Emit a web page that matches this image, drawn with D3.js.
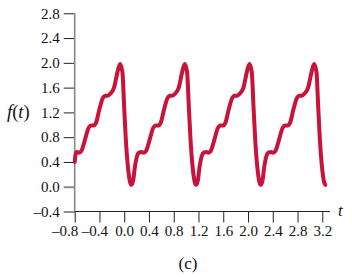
<!DOCTYPE html>
<html>
<head>
<meta charset="utf-8">
<script src="https://cdn.jsdelivr.net/npm/d3@7"></script>
<style>
  body { margin: 0; background: #fff; }
  svg text { font-family: "Liberation Serif", "Times New Roman", serif; fill: #111; }
</style>
</head>
<body>
<div id="chart"></div>
<script>
// values (t, f(t)) -- one period is roughly 1.045 wide in the drawing
var tVals = [
  -0.800, -0.785, -0.766, -0.731, -0.691, -0.631, -0.576, -0.531, -0.491, -0.456, -0.401, -0.346,
  -0.306, -0.266, -0.226, -0.164, -0.109, -0.067, -0.029, -0.002, 0.025, 0.063, 0.093,
  0.114, 0.144, 0.174, 0.209, 0.239, 0.279, 0.314, 0.354, 0.414, 0.469, 0.514, 0.554, 0.589,
  0.644, 0.699, 0.739, 0.779, 0.819, 0.881, 0.936, 0.978, 1.016, 1.043, 1.070, 1.108, 1.138,
  1.159, 1.189, 1.219, 1.254, 1.284, 1.324, 1.359, 1.399, 1.459, 1.514, 1.559, 1.599, 1.634,
  1.689, 1.744, 1.784, 1.824, 1.864, 1.926, 1.981, 2.023, 2.061, 2.088, 2.115, 2.153, 2.183,
  2.204, 2.234, 2.264, 2.299, 2.329, 2.369, 2.404, 2.444, 2.504, 2.559, 2.604, 2.644, 2.679,
  2.734, 2.789, 2.829, 2.869, 2.909, 2.971, 3.026, 3.068, 3.106, 3.133, 3.160, 3.198, 3.228,
  3.249
];
var fVals = [
  0.40, 0.52, 0.56, 0.55, 0.58, 0.77, 0.95, 0.99, 0.99, 1.03, 1.25, 1.43,
  1.47, 1.47, 1.50, 1.60, 1.85, 1.98, 1.85, 1.31, 0.78, 0.29, 0.08,
  0.03, 0.10, 0.33, 0.50, 0.55, 0.56, 0.55, 0.58, 0.77, 0.95, 0.99, 0.99, 1.03,
  1.25, 1.43, 1.47, 1.47, 1.50, 1.60, 1.85, 1.98, 1.85, 1.31, 0.78, 0.29, 0.08,
  0.03, 0.10, 0.33, 0.50, 0.55, 0.56, 0.55, 0.58, 0.77, 0.95, 0.99, 0.99, 1.03,
  1.25, 1.43, 1.47, 1.47, 1.50, 1.60, 1.85, 1.98, 1.85, 1.31, 0.78, 0.29, 0.08,
  0.03, 0.10, 0.33, 0.50, 0.55, 0.56, 0.55, 0.58, 0.77, 0.95, 0.99, 0.99, 1.03,
  1.25, 1.43, 1.47, 1.47, 1.50, 1.60, 1.85, 1.98, 1.85, 1.31, 0.78, 0.29, 0.08,
  0.03
];
var xTicks = [-0.8, -0.4, 0.0, 0.4, 0.8, 1.2, 1.6, 2.0, 2.4, 2.8, 3.2];
var yTicks = [-0.4, 0.0, 0.4, 0.8, 1.2, 1.6, 2.0, 2.4, 2.8];

var width = 352, height = 277;
var lineColor = "#c8133b";
var tickFont = "15px";

var x = d3.scaleLinear().domain([-0.8, 3.2]).range([74.7, 322.3]);
var y = d3.scaleLinear().domain([-0.4, 2.8]).range([211.5, 13.3]);

var data = tVals.map(function(t, i) { return {t: t, f: fVals[i]}; });

var fmt = function(d) { return d3.format(".1f")(d).replace("-", "\u2013").replace("\u2212", "\u2013"); };

var svg = d3.select("#chart")
    .append("svg")
    .attr("width", width)
    .attr("height", height);

// y axis
var yAxis = svg.append("g")
    .attr("transform", "translate(" + x(-0.8) + ",0)")
    .call(d3.axisLeft(y).tickValues(yTicks).tickSize(11).tickPadding(4).tickFormat(fmt));
yAxis.select(".domain").remove();
yAxis.selectAll(".tick line").attr("stroke", "#222").attr("stroke-width", 1);
yAxis.selectAll(".tick text").attr("font-size", tickFont).attr("fill", "#111");
yAxis.selectAll(".tick").filter(function(d) { return d === 0; })
    .select("line").attr("stroke", "#888").attr("stroke-width", 2);

svg.append("line")
    .attr("x1", x(-0.8)).attr("x2", x(-0.8))
    .attr("y1", y(2.8)).attr("y2", y(-0.4))
    .attr("stroke", "#888").attr("stroke-width", 1.6);

// x axis
var xAxis = svg.append("g")
    .attr("transform", "translate(0," + y(-0.4) + ")")
    .call(d3.axisBottom(x).tickValues(xTicks).tickSize(11).tickPadding(3).tickFormat(fmt));
xAxis.select(".domain").remove();
xAxis.selectAll(".tick line").attr("stroke", "#222").attr("stroke-width", 1);
xAxis.selectAll(".tick text").attr("font-size", tickFont).attr("fill", "#111")
    .attr("dx", function(d) { return d < -0.5 ? -10 : (d < 0 ? -5 : 0); });

svg.append("line")
    .attr("x1", x(-0.8)).attr("x2", 330)
    .attr("y1", y(-0.4)).attr("y2", y(-0.4))
    .attr("stroke", "#222").attr("stroke-width", 1);

// curve
svg.append("path")
    .datum(data)
    .attr("fill", "none")
    .attr("stroke", lineColor)
    .attr("stroke-width", 4)
    .attr("stroke-linejoin", "round")
    .attr("stroke-linecap", "round")
    .attr("d", d3.line()
        .x(function(d) { return x(d.t); })
        .y(function(d) { return y(d.f); })
        .curve(d3.curveMonotoneX));

// labels
var yLab = svg.append("text")
    .attr("x", 7).attr("y", y(1.2) + 6)
    .attr("font-size", "18.5px");
yLab.append("tspan").attr("font-style", "italic").text("f");
yLab.append("tspan").text("(");
yLab.append("tspan").attr("font-style", "italic").text("t");
yLab.append("tspan").text(")");

svg.append("text")
    .attr("x", 338).attr("y", y(-0.4) + 4)
    .attr("font-size", "17px")
    .attr("font-style", "italic")
    .text("t");

svg.append("text")
    .attr("x", 188).attr("y", 269)
    .attr("text-anchor", "middle")
    .attr("font-size", "17px")
    .text("(c)");
</script>
</body>
</html>
